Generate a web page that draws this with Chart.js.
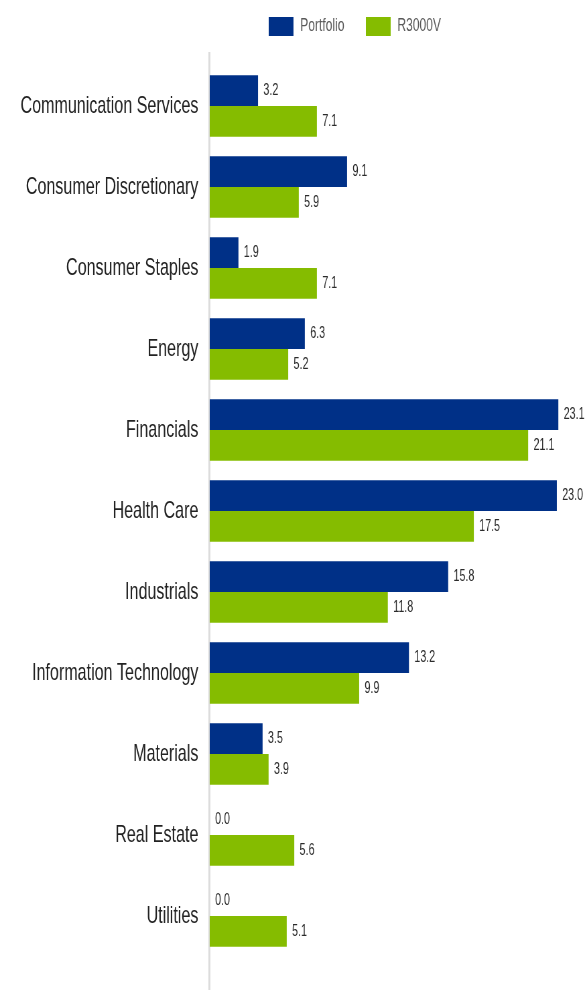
<!DOCTYPE html>
<html>
<head>
<meta charset="utf-8">
<script src="https://cdn.jsdelivr.net/npm/chart.js@4.4.0/dist/chart.umd.min.js"></script>
<style>
  html, body { margin: 0; padding: 0; background: #fff; }
  /* canvas is drawn wider and squeezed horizontally, like the narrow look of the original */
  #sectorChart { display: block; width: 587px !important; height: 990px !important; }
</style>
</head>
<body>
<canvas id="sectorChart" width="876" height="990" style="width:587px;height:990px"></canvas>
<script>
const categories = [
    'Communication Services',
    'Consumer Discretionary',
    'Consumer Staples',
    'Energy',
    'Financials',
    'Health Care',
    'Industrials',
    'Information Technology',
    'Materials',
    'Real Estate',
    'Utilities'
];
const portfolio = [3.2, 9.1, 1.9, 6.3, 23.1, 23.0, 15.8, 13.2, 3.5, 0.0, 0.0];
const r3000v = [7.1, 5.9, 7.1, 5.2, 21.1, 17.5, 11.8, 9.9, 3.9, 5.6, 5.1];
const seriesNames = ['Portfolio', 'R3000V'];
const seriesColors = ['#003087', '#85bc00'];

const FONT = '"Liberation Sans", Arial, sans-serif';

// grey vertical axis line, runs a bit past the plot area top and bottom
const axisLine = {
    id: 'axisLine',
    beforeDatasetsDraw(chart) {
        const ctx = chart.ctx;
        const x = chart.chartArea.left - 0.5;
        ctx.save();
        ctx.strokeStyle = '#dcdcdc';
        ctx.lineWidth = 3;
        ctx.beginPath();
        ctx.moveTo(x, 52);
        ctx.lineTo(x, chart.height);
        ctx.stroke();
        ctx.restore();
    }
};

// value labels at the end of every bar
const valueLabels = {
    id: 'valueLabels',
    afterDatasetsDraw(chart) {
        const ctx = chart.ctx;
        ctx.save();
        ctx.font = '16px ' + FONT;
        ctx.fillStyle = '#2b2b2b';
        ctx.textAlign = 'left';
        ctx.textBaseline = 'middle';
        chart.data.datasets.forEach((ds, di) => {
            chart.getDatasetMeta(di).data.forEach((bar, i) => {
                ctx.fillText(ds.data[i].toFixed(1), bar.x + 8, bar.y);
            });
        });
        ctx.restore();
    }
};

// legend sits off-centre in the original, so it is drawn by hand
const topLegend = {
    id: 'topLegend',
    afterDraw(chart) {
        const ctx = chart.ctx;
        const starts = [401, 546];
        ctx.save();
        ctx.font = '18px ' + FONT;
        ctx.textBaseline = 'middle';
        ctx.textAlign = 'left';
        chart.data.datasets.forEach((ds, i) => {
            ctx.fillStyle = ds.backgroundColor;
            ctx.fillRect(starts[i], 17, 37, 19);
            ctx.fillStyle = '#595959';
            ctx.fillText(ds.label, starts[i] + 47, 26.5);
        });
        ctx.restore();
    }
};

new Chart(document.getElementById('sectorChart'), {
    type: 'bar',
    data: {
        labels: categories,
        datasets: [
            { label: seriesNames[0], data: portfolio, backgroundColor: seriesColors[0] },
            { label: seriesNames[1], data: r3000v, backgroundColor: seriesColors[1] }
        ]
    },
    options: {
        indexAxis: 'y',
        responsive: false,
        maintainAspectRatio: false,
        devicePixelRatio: 1,
        animation: false,
        layout: { padding: { top: 65.5, bottom: 33.5, left: 0, right: 0 } },
        datasets: {
            bar: { categoryPercentage: 0.76, barPercentage: 1.0, borderWidth: 0 }
        },
        scales: {
            x: { display: false, min: 0, max: 25 },
            y: {
                grid: { display: false },
                border: { display: false },
                ticks: {
                    font: { family: FONT, size: 24 },
                    color: '#222',
                    padding: 9
                },
                afterFit(scale) { scale.width = 313; }
            }
        },
        plugins: {
            legend: { display: false },
            tooltip: { enabled: false }
        }
    },
    plugins: [axisLine, valueLabels, topLegend]
});
</script>
</body>
</html>
